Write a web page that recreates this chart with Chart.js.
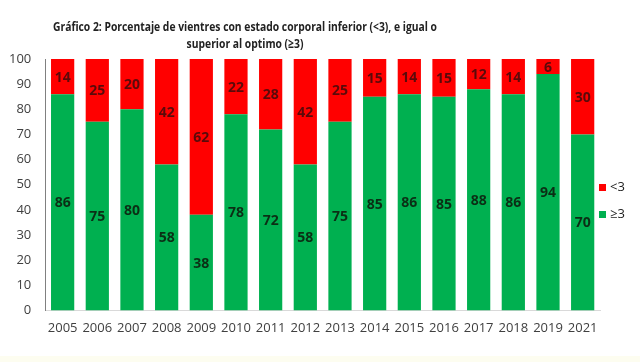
<!DOCTYPE html>
<html>
<head>
<meta charset="utf-8">
<script src="https://cdn.jsdelivr.net/npm/chart.js@4"></script>
<style>
  html, body { margin: 0; padding: 0; background: #fff; }
  #wrap { position: relative; width: 640px; height: 362px; overflow: hidden; }
  #title {
    position: absolute; left: 0; width: 490px; top: 18px;
    text-align: center; font: bold 13px "Open Sans", sans-serif;
    line-height: 17px; color: #222; white-space: nowrap;
    transform-origin: 245px 0;
  }
  #legend { position: absolute; left: 599px; top: 176px; font: 13px "Open Sans", sans-serif; color: #222; }
  #legend div { height: 27px; line-height: 20px; }
  #legend span.box { display: inline-block; width: 7px; height: 7px; margin-right: 4px; vertical-align: 0px; }
  #strip { position: absolute; left: 0; right: 0; bottom: 0; height: 6px; background: #fdfdf0; }
</style>
</head>
<body>
<div id="wrap">
  <canvas id="chart" width="640" height="362"></canvas>
  <div id="title"><span id="t1">Gráfico 2: Porcentaje de vientres con estado corporal inferior (&lt;3), e igual o</span><br>superior al optimo (≥3)</div>
  <div id="legend"></div>
  <div id="strip"></div>
</div>
<script>
// data
const years = ["2005", "2006", "2007", "2008", "2009", "2010", "2011", "2012", "2013", "2014", "2015", "2016", "2017", "2018", "2019", "2021"];
const geq3 = [86, 75, 80, 58, 38, 78, 72, 58, 75, 85, 86, 85, 88, 86, 94, 70];
const lt3 = [14, 25, 20, 42, 62, 22, 28, 42, 25, 15, 14, 15, 12, 14, 6, 30];
const yTicks = [0, 10, 20, 30, 40, 50, 60, 70, 80, 90, 100];

const textFont = '"Open Sans", sans-serif';

// values written in the middle of each segment
const segmentLabels = {
  id: "segmentLabels",
  afterDatasetsDraw(chart) {
    const ctx = chart.ctx;
    ctx.save();
    ctx.font = "bold 14px " + textFont;
    ctx.textAlign = "center";
    ctx.textBaseline = "middle";
    chart.data.datasets.forEach((ds, i) => {
      const meta = chart.getDatasetMeta(i);
      meta.data.forEach((bar, j) => {
        ctx.fillStyle = ds.labelColor;
        ctx.fillText(ds.data[j], bar.x, (bar.y + bar.base) / 2 + 1);
      });
    });
    ctx.restore();
  }
};

// title is wider in Open Sans than in the original font, squeeze it to fit
function fitTitle() {
  const w = document.getElementById("t1").getBoundingClientRect().width;
  document.getElementById("title").style.transform = "scaleX(" + (384 / w) + ")";
}

function buildLegend(chart) {
  const el = document.getElementById("legend");
  chart.data.datasets.slice().reverse().forEach(ds => {
    const row = document.createElement("div");
    row.innerHTML = '<span class="box" style="background:' + ds.backgroundColor + '"></span>' + ds.label.replace("<", "&lt;");
    el.appendChild(row);
  });
}

window.onload = () => {
  fitTitle();
  const chart = new Chart(document.getElementById("chart"), {
    type: "bar",
    data: {
      labels: years,
      datasets: [
        { label: "≥3", data: geq3, backgroundColor: "#00b050", labelColor: "#0b2e15" },
        { label: "<3", data: lt3, backgroundColor: "#ff0000", labelColor: "#5a0a0a" }
      ]
    },
    options: {
      responsive: false,
      animation: false,
      layout: { padding: { top: 59, left: 3, right: 40, bottom: 24 } },
      datasets: { bar: { categoryPercentage: 1, barPercentage: 0.67 } },
      scales: {
        x: {
          stacked: true,
          grid: { display: false },
          border: { color: "#d9d9d9" },
          ticks: { color: "#404040", font: { family: textFont, size: 13 }, maxRotation: 0, padding: 2 }
        },
        y: {
          stacked: true,
          min: 0, max: 100,
          afterBuildTicks: axis => { axis.ticks = yTicks.map(v => ({ value: v })); },
          grid: { display: false },
          border: { color: "#808080" },
          ticks: { color: "#404040", font: { family: textFont, size: 13 }, padding: 6 }
        }
      },
      plugins: {
        title: { display: false },
        tooltip: { enabled: false },
        legend: { display: false }
      }
    },
    plugins: [segmentLabels]
  });
  buildLegend(chart);
};
</script>
</body>
</html>
